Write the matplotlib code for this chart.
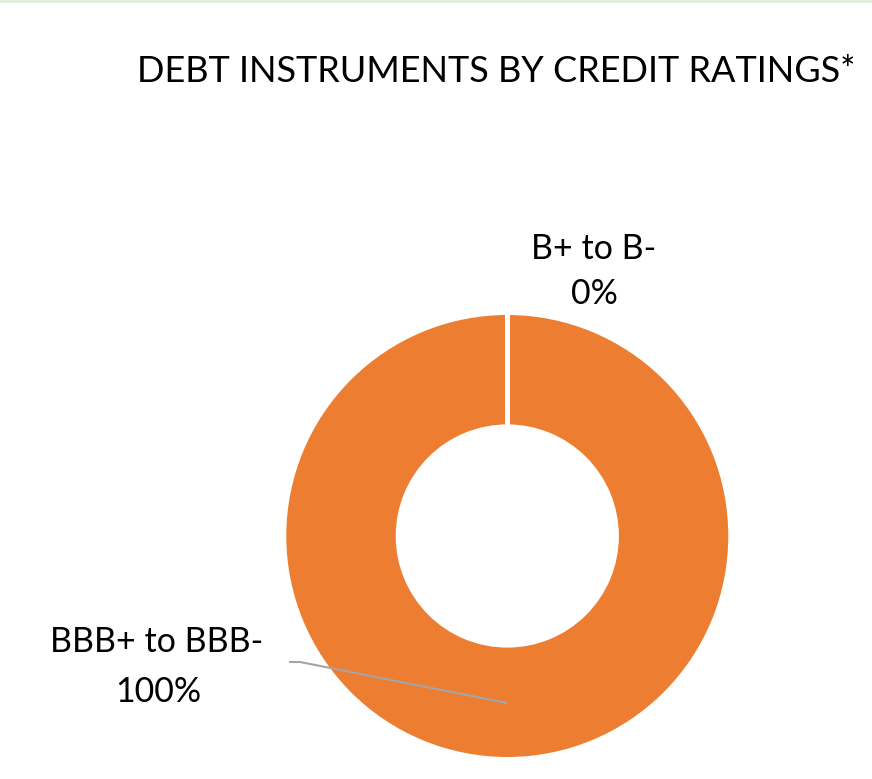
import matplotlib
matplotlib.use("Agg")
import matplotlib.pyplot as plt
from matplotlib.lines import Line2D
import numpy as np

categories = ["B+ to B-", "BBB+ to BBB-"]
values = [0, 100]
pct_labels = ["0%", "100%"]
title = "DEBT INSTRUMENTS BY CREDIT RATINGS*"

plt.rcParams['font.family'] = ['Lato', 'DejaVu Sans']

W, H = 872, 779
fig = plt.figure(figsize=(W/100, H/100), dpi=100)
fig.patch.set_facecolor("white")

CX, CY = 507.3, 536.0
cx, cy = CX, 779 - CY
R = 221.0
half = 240.0
ax = fig.add_axes([(cx-half)/W, (cy-half)/H, 2*half/W, 2*half/H])
lim = half / R

colors = ["#5b9bd5", "#ed7d31"]
ring_w = 0.495
wedges, _ = ax.pie(values, colors=colors, startangle=90, counterclock=False, radius=1.0,
                   wedgeprops=dict(width=ring_w, edgecolor="none", linewidth=0))
ax.set_xlim(-lim, lim)
ax.set_ylim(-lim, lim)
ax.set_aspect('equal')
ax.axis('off')

# slice boundaries (white separators)
total = sum(values)
ang = 90.0
for v in values:
    a = np.deg2rad(ang)
    ax.plot([(1 - ring_w) * np.cos(a) * 0.98, 1.01 * np.cos(a)],
            [(1 - ring_w) * np.sin(a) * 0.98, 1.01 * np.sin(a)],
            color="white", lw=3.5, solid_capstyle='butt', zorder=4)
    ang -= 360.0 * v / total

def px(x, y):
    return ((x - CX) / R, (CY - y) / R)

fs = 24.5
x, y = px(594, 249)
ax.text(x, y, categories[0], ha='center', va='center', fontsize=fs, color='black')
x, y = px(594, 294)
ax.text(x, y, pct_labels[0], ha='center', va='center', fontsize=fs, color='black')
x, y = px(157, 642)
ax.text(x, y, categories[1], ha='center', va='center', fontsize=fs, color='black')
x, y = px(158, 692)
ax.text(x, y, pct_labels[1], ha='center', va='center', fontsize=fs, color='black')

p0 = px(289, 662); p1 = px(300, 662); p2 = px(507, 703)
ax.plot([p0[0], p1[0], p2[0]], [p0[1], p1[1], p2[1]], color="#a5a5a5", lw=1.5,
        solid_capstyle='butt', zorder=5)

fig.text(496/W, 1 - 72/H, title, ha='center', va='center', fontsize=26, color='black')

fig.add_artist(Line2D([0, 1], [1 - 1/H, 1 - 1/H], transform=fig.transFigure,
                      color="#e2efda", lw=2))

fig.savefig("out.png", dpi=100, facecolor="white")
